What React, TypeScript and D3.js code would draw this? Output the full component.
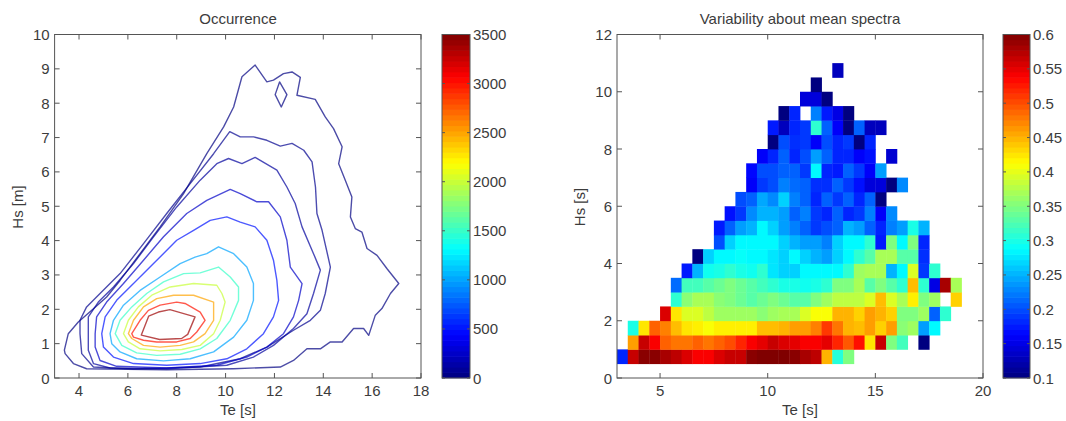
import React from "react";
import * as d3 from "d3";

type Pt = [number, number];

// ---------- left panel: occurrence contours, traced as [Te, Hs] per level ----------
const occLevels = [10, 50, 100, 250, 500, 1000, 1500, 2000, 2500, 3000, 3400];

const occ10: Pt[] = [
  [3.4, 0.81], [3.56, 1.29], [3.97, 1.63], [4.52, 1.97], [5.13, 2.36], [5.68, 2.84],
  [6.5, 3.62], [7.32, 4.4], [8.28, 5.37], [9.23, 6.53], [9.92, 7.31], [10.33, 7.89],
  [10.67, 8.77], [11.21, 9.11], [11.69, 8.62], [11.96, 8.67], [12.37, 8.86], [12.72, 8.91],
  [13.06, 8.75], [12.92, 8.23], [13.67, 8.11], [14.08, 7.6], [14.42, 7.26], [14.77, 6.73],
  [14.63, 6.24], [14.9, 5.76], [15.17, 5.27], [15.11, 4.69], [15.31, 4.35], [15.58, 4.25],
  [15.79, 3.77], [16.2, 3.57], [16.61, 3.18], [17.09, 2.75], [16.75, 2.46], [16.4, 2.02],
  [16.13, 1.83], [15.86, 1.24], [15.65, 1.44], [15.24, 1.44], [14.77, 1.05], [14.29, 1.05],
  [13.88, 0.85], [13.33, 0.85], [12.78, 0.51], [12.24, 0.32], [10.33, 0.27], [7.59, 0.24],
  [4.31, 0.27], [3.77, 0.42], [3.43, 0.71],
];
const occ10Island: Pt[] = [[12.21, 8.62], [12.51, 8.25], [12.28, 7.89], [12.03, 8.25]];
const occ50: Pt[] = [
  [4.04, 1.29], [4.04, 1.68], [4.31, 2.07], [4.86, 2.46], [5.68, 3.04], [6.64, 3.91],
  [7.59, 4.79], [8.55, 5.66], [9.51, 6.53], [10.17, 7.17], [10.6, 7.02], [11.15, 7.02],
  [11.69, 6.92], [12.24, 6.75], [12.72, 6.83], [13.2, 6.63], [13.54, 6.29], [13.68, 5.56],
  [13.74, 4.79], [13.95, 4.3], [14.29, 3.23], [14.08, 2.46], [13.88, 1.97], [13.47, 1.68],
  [12.78, 1.39], [11.69, 0.9], [10.6, 0.56], [8.96, 0.32], [6.23, 0.26], [4.59, 0.32],
  [4.11, 0.71],
];
const occ100: Pt[] = [
  [4.38, 1.29], [4.38, 1.78], [4.79, 2.21], [5.41, 2.65], [6.23, 3.33], [7.05, 4.11],
  [8.0, 4.98], [8.96, 5.76], [9.64, 6.24], [10.12, 6.39], [10.67, 6.24], [11.21, 6.42],
  [12.1, 6.05], [12.51, 5.56], [12.85, 5.08], [13.13, 4.4], [13.6, 3.62], [13.88, 3.14],
  [13.6, 2.46], [13.33, 1.87], [12.78, 1.44], [11.96, 0.95], [11.14, 0.61], [10.05, 0.37],
  [7.59, 0.27], [5.27, 0.29], [4.59, 0.42], [4.38, 0.81],
];
const occ250: Pt[] = [
  [4.66, 1.29], [4.72, 1.78], [5.13, 2.21], [5.82, 2.75], [6.64, 3.43], [7.46, 4.11],
  [8.41, 4.79], [9.23, 5.17], [10.19, 5.49], [10.6, 5.37], [11.28, 5.13], [11.76, 5.13],
  [12.24, 4.69], [12.51, 4.01], [12.65, 3.23], [13.13, 2.75], [12.99, 2.26], [12.78, 1.78],
  [12.37, 1.29], [11.69, 0.9], [10.87, 0.61], [9.64, 0.37], [7.59, 0.29], [5.54, 0.34],
  [4.86, 0.51], [4.66, 0.9],
];
const occ500: Pt[] = [
  [4.93, 1.29], [5.07, 1.78], [5.54, 2.26], [6.23, 2.75], [7.05, 3.33], [8.0, 4.01],
  [8.69, 4.3], [9.37, 4.59], [10.05, 4.69], [10.6, 4.54], [11.21, 4.4], [11.69, 4.01],
  [11.96, 3.43], [12.1, 2.84], [12.17, 2.26], [11.96, 1.78], [11.55, 1.29], [10.87, 0.85],
  [10.05, 0.56], [8.96, 0.42], [7.59, 0.37], [6.23, 0.42], [5.41, 0.61], [5.0, 0.9],
];
const occ1000: Pt[] = [
  [5.27, 1.29], [5.41, 1.68], [5.82, 2.12], [6.5, 2.55], [7.32, 2.94], [8.14, 3.33],
  [8.75, 3.52], [9.23, 3.62], [9.71, 3.82], [10.33, 3.62], [10.87, 3.23], [11.14, 2.75],
  [11.14, 2.26], [10.87, 1.68], [10.33, 1.19], [9.51, 0.76], [8.55, 0.56], [7.46, 0.5],
  [6.36, 0.56], [5.68, 0.76], [5.34, 1.0],
];
const occ1500: Pt[] = [
  [5.48, 1.29], [5.68, 1.68], [6.16, 2.07], [6.77, 2.46], [7.46, 2.8], [8.28, 3.04],
  [8.96, 3.06], [9.71, 3.23], [10.19, 2.94], [10.53, 2.65], [10.53, 2.26], [10.19, 1.68],
  [9.64, 1.15], [8.96, 0.85], [8.14, 0.69], [7.18, 0.66], [6.36, 0.73], [5.75, 0.95],
];
const occ2000: Pt[] = [
  [5.82, 1.29], [6.02, 1.68], [6.43, 2.07], [6.98, 2.41], [7.73, 2.65], [8.69, 2.75],
  [9.64, 2.7], [9.85, 2.46], [9.98, 2.21], [9.78, 1.68], [9.51, 1.29], [8.96, 0.95],
  [8.21, 0.83], [7.32, 0.79], [6.5, 0.85], [6.02, 1.05],
];
const occ2500: Pt[] = [
  [6.02, 1.29], [6.23, 1.68], [6.64, 2.07], [7.18, 2.31], [7.87, 2.41], [8.69, 2.41],
  [9.51, 2.21], [9.51, 1.68], [9.16, 1.29], [8.69, 1.05], [8.14, 0.95], [7.32, 0.9],
  [6.64, 0.95], [6.16, 1.15],
];
const occ3000: Pt[] = [
  [6.16, 1.29], [6.5, 1.68], [6.84, 1.97], [7.32, 2.12], [8.0, 2.21], [8.34, 2.17],
  [8.96, 1.92], [9.16, 1.68], [8.82, 1.34], [8.55, 1.15], [8.0, 1.05], [7.18, 1.05],
  [6.64, 1.1], [6.23, 1.19],
];
const occ3400: Pt[] = [
  [6.55, 1.25], [6.85, 1.8], [7.25, 1.92], [7.72, 1.99], [8.75, 1.78], [8.45, 1.27],
  [8.2, 1.15], [7.3, 1.12],
];

const occContours: { level: number; pts: Pt[] }[] = [
  { level: occLevels[0], pts: occ10 },
  { level: occLevels[0], pts: occ10Island },
  { level: occLevels[1], pts: occ50 },
  { level: occLevels[2], pts: occ100 },
  { level: occLevels[3], pts: occ250 },
  { level: occLevels[4], pts: occ500 },
  { level: occLevels[5], pts: occ1000 },
  { level: occLevels[6], pts: occ1500 },
  { level: occLevels[7], pts: occ2000 },
  { level: occLevels[8], pts: occ2500 },
  { level: occLevels[9], pts: occ3000 },
  { level: occLevels[10], pts: occ3400 },
];

// ---------- right panel: variability grid, 0.5 s x 0.5 m bins ----------
const teBinStart = 3;
const hsBinStart = 0.5;
const binSize = 0.5;
// first Te bin index of each Hs row (row 0 = 0.5-1.0 m)
const varRowStart = [0, 1, 1, 4, 5, 5, 6, 7, 9, 9, 10, 11, 12, 12, 13, 14, 14, 15, 17, 18, 20];
const varRows: (number | null)[][] = [
  [0.18, 0.565, 0.595, 0.595, 0.58, 0.57, 0.555, 0.54, 0.54, 0.555, 0.565, 0.565, 0.595, 0.6, 0.6, 0.6, 0.595, 0.58, 0.57, 0.45, 0.305, 0.35],
  [0.46, 0.565, 0.54, 0.49, 0.48, 0.48, 0.49, 0.48, 0.49, 0.5, 0.52, 0.54, 0.55, 0.565, 0.555, 0.55, 0.54, 0.54, 0.55, 0.52, 0.495, 0.53, 0.425, 0.565, 0.35, 0.32, null, 0.1],
  [0.3, 0.425, 0.49, 0.475, 0.445, 0.425, 0.42, 0.41, 0.42, 0.42, 0.42, 0.42, 0.445, 0.445, 0.45, 0.46, 0.46, 0.475, 0.51, 0.48, 0.45, 0.445, 0.46, 0.435, 0.46, 0.355, 0.365, 0.24, 0.285],
  [0.555, 0.425, 0.395, 0.395, 0.38, 0.365, 0.365, 0.365, 0.365, 0.355, 0.365, 0.37, 0.37, 0.395, 0.41, 0.41, 0.45, 0.45, 0.435, 0.46, 0.45, 0.435, 0.35, 0.35, 0.365, 0.21, 0.31],
  [0.31, 0.355, 0.37, 0.37, 0.355, 0.35, 0.34, 0.33, 0.34, 0.35, 0.34, 0.33, 0.33, 0.35, 0.365, 0.38, 0.38, 0.38, 0.395, 0.445, 0.395, 0.37, 0.42, 0.35, 0.365, null, 0.435],
  [0.215, 0.32, 0.32, 0.33, 0.34, 0.35, 0.34, 0.33, 0.32, 0.31, 0.3, 0.3, 0.295, 0.3, 0.31, 0.35, 0.35, 0.37, 0.33, 0.35, 0.33, 0.31, 0.445, 0.31, 0.15, 0.58, 0.37],
  [0.175, 0.25, 0.295, 0.3, 0.31, 0.3, 0.295, 0.31, 0.275, 0.265, 0.265, 0.285, 0.285, 0.285, 0.285, 0.31, 0.365, 0.37, 0.37, 0.25, 0.285, 0.395, 0.19, 0.31],
  [0.1, 0.265, 0.285, 0.285, 0.29, 0.285, 0.285, 0.275, 0.265, 0.285, 0.265, 0.25, 0.24, 0.265, 0.285, 0.31, 0.33, 0.37, 0.37, 0.33, 0.33, 0.185],
  [0.2, 0.265, 0.285, 0.285, 0.285, 0.285, 0.265, 0.25, 0.24, 0.24, 0.225, 0.265, 0.285, 0.285, 0.31, 0.175, 0.35, 0.285, 0.35, 0.18],
  [0.175, 0.21, 0.24, 0.25, 0.285, 0.265, 0.24, 0.225, 0.21, 0.19, 0.2, 0.21, 0.25, 0.24, 0.21, 0.18, 0.225, 0.24, 0.3, 0.25],
  [0.17, 0.19, 0.23, 0.25, 0.25, 0.24, 0.21, 0.225, 0.19, 0.18, 0.21, 0.18, 0.19, 0.225, 0.16, 0.23],
  [0.2, 0.21, 0.245, 0.23, 0.265, 0.225, 0.21, 0.18, 0.21, 0.19, 0.21, 0.18, 0.21, 0.1],
  [0.16, 0.19, 0.2, 0.225, 0.215, 0.21, 0.185, 0.185, 0.21, 0.19, 0.17, 0.145, 0.145, 0.1, 0.23],
  [0.165, 0.2, 0.2, 0.21, 0.21, 0.19, 0.285, 0.18, 0.175, 0.21, 0.19, 0.16, 0.24],
  [0.16, 0.18, 0.21, 0.18, 0.2, 0.24, 0.21, 0.18, 0.18, 0.16, 0.17, null, 0.14],
  [0.1, 0.2, 0.185, 0.19, 0.16, 0.2, 0.18, 0.19, 0.1, 0.18],
  [0.175, 0.13, 0.18, 0.19, 0.31, 0.21, 0.16, 0.1, 0.21, 0.13, 0.13],
  [0.1, 0.18, null, 0.225, 0.175, 0.15, 0.1],
  [0.145, 0.145, 0.1],
  [0.1],
  [0.13],
];

// ---------- ticks ----------
const occXTicks = [4, 6, 8, 10, 12, 14, 16, 18];
const occYTicks = [0, 1, 2, 3, 4, 5, 6, 7, 8, 9, 10];
const occCbTicks = [0, 500, 1000, 1500, 2000, 2500, 3000, 3500];
const varXTicks = [5, 10, 15, 20];
const varYTicks = [0, 2, 4, 6, 8, 10, 12];
const varCbTicks = [0.1, 0.15, 0.2, 0.25, 0.3, 0.35, 0.4, 0.45, 0.5, 0.55, 0.6];

// ---------- layout ----------
const W = 1066, H = 421;
const TOP = 34.5, BOTTOM = 378;
const FONT = "'Liberation Sans', Arial, Helvetica, sans-serif";
const INK = "#3c3c3c";
const LINE = "#555";
const TICK = 5;

function jet(t: number): string {
  t = Math.max(0, Math.min(1, t));
  const c = (v: number) => Math.round(255 * Math.max(0, Math.min(1, v)));
  const r = Math.min(4 * t - 1.5, -4 * t + 4.5);
  const g = Math.min(4 * t - 0.5, -4 * t + 3.5);
  const b = Math.min(4 * t + 0.5, -4 * t + 2.5);
  return d3.rgb(c(r), c(g), c(b)).formatHex();
}

function Frame(props: {
  x: d3.ScaleLinear<number, number>;
  y: d3.ScaleLinear<number, number>;
  xTicks: number[];
  yTicks: number[];
}) {
  const { x, y, xTicks, yTicks } = props;
  const [l, r] = x.range();
  const [b, t] = y.range();
  return (
    <g>
      <rect x={l} y={t} width={r - l} height={b - t} fill="none" stroke={LINE} strokeWidth={1} />
      {xTicks.map((v) => (
        <g key={"x" + v}>
          <line x1={x(v)} x2={x(v)} y1={b} y2={b - TICK} stroke={LINE} />
          <line x1={x(v)} x2={x(v)} y1={t} y2={t + TICK} stroke={LINE} />
          <text x={x(v)} y={b + 18} textAnchor="middle" fontSize={15} fill={INK}>{v}</text>
        </g>
      ))}
      {yTicks.map((v) => (
        <g key={"y" + v}>
          <line x1={l} x2={l + TICK} y1={y(v)} y2={y(v)} stroke={LINE} />
          <line x1={r} x2={r - TICK} y1={y(v)} y2={y(v)} stroke={LINE} />
          <text x={l - 5} y={y(v) + 5.5} textAnchor="end" fontSize={15} fill={INK}>{v}</text>
        </g>
      ))}
    </g>
  );
}

function Colorbar(props: { x0: number; x1: number; domain: [number, number]; ticks: number[]; fmt: (v: number) => string }) {
  const { x0, x1, domain, ticks, fmt } = props;
  const s = d3.scaleLinear().domain(domain).range([BOTTOM, TOP]);
  const n = 64;
  const steps = d3.range(n);
  const h = (BOTTOM - TOP) / n;
  return (
    <g>
      {steps.map((i) => (
        <rect key={i} x={x0} y={BOTTOM - (i + 1) * h - 0.3} width={x1 - x0} height={h + 0.6} fill={jet((i + 0.5) / n)} />
      ))}
      <rect x={x0} y={TOP} width={x1 - x0} height={BOTTOM - TOP} fill="none" stroke={LINE} />
      {ticks.map((v) => (
        <g key={v}>
          <line x1={x0} x2={x0 + 3} y1={s(v)} y2={s(v)} stroke={LINE} />
          <line x1={x1} x2={x1 - 3} y1={s(v)} y2={s(v)} stroke={LINE} />
          <text x={x1 + 3} y={s(v) + 5.5} fontSize={15} fill={INK}>{fmt(v)}</text>
        </g>
      ))}
    </g>
  );
}

export default function App() {
  // left panel scales
  const ox = d3.scaleLinear().domain([3, 18]).range([54.6, 421]);
  const oy = d3.scaleLinear().domain([0, 10]).range([BOTTOM, TOP]);
  const occColor = (v: number) => jet(v / 3500);
  const line = d3.line<Pt>().x((d) => ox(d[0])).y((d) => oy(d[1])).curve(d3.curveLinearClosed);

  // right panel scales
  const vx = d3.scaleLinear().domain([3, 20]).range([617, 983]);
  const vy = d3.scaleLinear().domain([0, 12]).range([BOTTOM, TOP]);
  const varColor = (v: number) => jet((v - 0.1) / 0.5);

  const cells: { k: number; j: number; v: number }[] = [];
  varRows.forEach((row, j) => {
    row.forEach((v, i) => {
      if (v != null) cells.push({ k: varRowStart[j] + i, j, v });
    });
  });

  return (
    <svg width={W} height={H} style={{ position: "absolute", left: 0, top: 0, background: "#fff" }} fontFamily={FONT}>
      <defs>
        <clipPath id="occClip">
          <rect x={54.6} y={TOP} width={421 - 54.6} height={BOTTOM - TOP} />
        </clipPath>
      </defs>

      {/* Occurrence */}
      <text x={238} y={24} textAnchor="middle" fontSize={15} fill={INK}>Occurrence</text>
      <g clipPath="url(#occClip)" fill="none" strokeLinejoin="round">
        {occContours.map((c, i) => (
          <path key={i} d={line(c.pts) || ""} stroke={occColor(c.level)} strokeWidth={1.4} strokeOpacity={0.7} />
        ))}
      </g>
      <Frame x={ox} y={oy} xTicks={occXTicks} yTicks={occYTicks} />
      <text x={238} y={415} textAnchor="middle" fontSize={15} fill={INK}>Te [s]</text>
      <text transform="translate(23,207) rotate(-90)" textAnchor="middle" fontSize={15} fill={INK}>Hs [m]</text>
      <Colorbar x0={442} x1={470} domain={[0, 3500]} ticks={occCbTicks} fmt={(v) => String(v)} />

      {/* Variability */}
      <text x={800} y={24} textAnchor="middle" fontSize={15} fill={INK}>Variability about mean spectra</text>
      <g>
        {cells.map((c, i) => {
          const xa = vx(teBinStart + c.k * binSize);
          const xb = vx(teBinStart + (c.k + 1) * binSize);
          const ya = vy(hsBinStart + (c.j + 1) * binSize);
          const yb = vy(hsBinStart + c.j * binSize);
          return <rect key={i} x={xa} y={ya} width={xb - xa + 0.4} height={yb - ya + 0.4} fill={varColor(c.v)} />;
        })}
      </g>
      <Frame x={vx} y={vy} xTicks={varXTicks} yTicks={varYTicks} />
      <text x={800} y={415} textAnchor="middle" fontSize={15} fill={INK}>Te [s]</text>
      <text transform="translate(585,207) rotate(-90)" textAnchor="middle" fontSize={15} fill={INK}>Hs [s]</text>
      <Colorbar x0={1003} x1={1030} domain={[0.1, 0.6]} ticks={varCbTicks} fmt={(v) => String(+v.toFixed(2))} />
    </svg>
  );
}
